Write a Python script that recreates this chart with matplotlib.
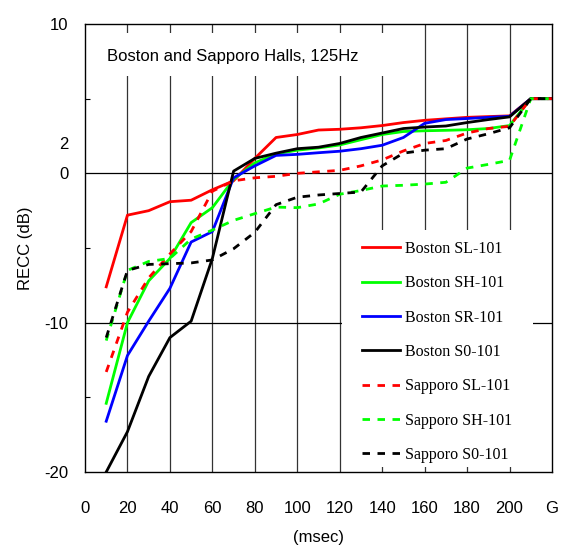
import matplotlib
matplotlib.use("Agg")
import matplotlib.pyplot as plt
from matplotlib.patches import Rectangle

x = [10, 20, 30, 40, 50, 60, 70, 80, 90, 100, 110, 120, 130, 140, 150, 160, 170, 180, 190, 200, 210, 220]

boston_sl = [-7.6, -2.8, -2.5, -1.9, -1.8, -1.1, -0.5, 1.0, 2.4, 2.6, 2.9, 2.95, 3.05, 3.2, 3.4, 3.55, 3.65, 3.75, 3.8, 3.85, 5.0, 5.0]
boston_sh = [-15.4, -10.0, -7.2, -5.7, -3.3, -2.3, -0.4, 0.7, 1.3, 1.55, 1.7, 1.9, 2.25, 2.6, 2.8, 2.85, 2.88, 2.92, 3.0, 3.2, 5.0, 5.0]
boston_sr = [-16.6, -12.2, -9.9, -7.7, -4.6, -3.9, -0.3, 0.5, 1.2, 1.27, 1.38, 1.48, 1.65, 1.88, 2.4, 3.35, 3.6, 3.67, 3.75, 3.82, 5.0, 5.0]
boston_s0 = [-20.0, -17.3, -13.6, -11.0, -9.9, -5.7, 0.15, 1.0, 1.35, 1.65, 1.75, 2.0, 2.4, 2.7, 3.0, 3.1, 3.17, 3.4, 3.6, 3.78, 5.0, 5.0]
sapporo_sl = [-13.3, -9.3, -7.0, -5.4, -3.9, -1.2, -0.5, -0.3, -0.2, 0.0, 0.1, 0.2, 0.5, 0.9, 1.5, 2.0, 2.2, 2.7, 3.0, 3.15, 5.0, 5.0]
sapporo_sh = [-11.2, -6.5, -5.9, -5.7, -4.4, -3.8, -3.15, -2.7, -2.26, -2.3, -2.05, -1.4, -1.15, -0.85, -0.8, -0.72, -0.6, 0.35, 0.6, 0.87, 5.0, 5.0]
sapporo_s0 = [-11.0, -6.5, -6.1, -6.05, -6.0, -5.8, -5.05, -3.95, -2.1, -1.6, -1.45, -1.35, -1.25, 0.5, 1.35, 1.55, 1.65, 2.3, 2.65, 3.05, 5.0, 5.0]

series = [
    ("Boston SL-101", boston_sl, "#ff0000", "-"),
    ("Boston SH-101", boston_sh, "#00ff00", "-"),
    ("Boston SR-101", boston_sr, "#0000ff", "-"),
    ("Boston S0-101", boston_s0, "#000000", "-"),
    ("Sapporo SL-101", sapporo_sl, "#ff0000", "--"),
    ("Sapporo SH-101", sapporo_sh, "#00ff00", "--"),
    ("Sapporo S0-101", sapporo_s0, "#000000", "--"),
]

x_ticks = [0, 20, 40, 60, 80, 100, 120, 140, 160, 180, 200, 220]
x_tick_labels = ["0", "20", "40", "60", "80", "100", "120", "140", "160", "180", "200", "G"]
y_ticks = [-20, -10, 0, 2, 10]
y_tick_labels = ["-20", "-10", "0", "2", "10"]
y_minor = [-15, -5, 5]
v_grid = [20, 40, 60, 80, 100, 120, 140, 160, 180, 200]
h_grid = [0, -10]

plt.rcParams['font.family'] = ['Liberation Sans', 'DejaVu Sans']

fig = plt.figure(figsize=(5.61, 5.45), dpi=100)
ax = fig.add_axes([85/561, 73/545, 467/561, 448/545])
ax.set_xlim(0, 220)
ax.set_ylim(-20, 10)

for gx in v_grid:
    ax.axvline(gx, color="#333333", lw=0.9, zorder=1)
for gy in h_grid:
    ax.axhline(gy, color="black", lw=0.9, zorder=1)

handles = []
for label, vals, col, ls in series:
    if ls == "--":
        ln, = ax.plot(x, vals, color=col, lw=2.0, linestyle=(0, (2.7, 2.7)), label=label, zorder=3)
    else:
        ln, = ax.plot(x, vals, color=col, lw=2.0, linestyle="-", label=label, zorder=3)
    handles.append(ln)

# title box
ax.add_patch(Rectangle((0.0, 0.884), 0.685, 0.096, transform=ax.transAxes,
                       facecolor="white", edgecolor="none", zorder=4))
ax.text(0.047, 0.928, "Boston and Sapporo Halls, 125Hz", transform=ax.transAxes,
        fontsize=12, va="center", ha="left", zorder=5)

# legend box
ax.add_patch(Rectangle((0.55, 0.011), 0.409, 0.529, transform=ax.transAxes,
                       facecolor="white", edgecolor="none", zorder=4))
leg = ax.legend(handles=handles, loc="upper left", bbox_to_anchor=(0.593, 0.516),
                frameon=False, prop={"family": "Liberation Serif", "size": 11.5},
                handlelength=2.4, handletextpad=0.3, labelspacing=1.15,
                borderpad=0, borderaxespad=0)
leg.set_zorder(6)

ax.set_xticks(x_ticks)
ax.set_xticklabels(x_tick_labels)
ax.set_yticks(y_ticks)
ax.set_yticklabels(y_tick_labels)
ax.set_yticks(y_minor, minor=True)
ax.tick_params(axis="x", which="major", length=0, pad=21, labelsize=12)
ax.tick_params(axis="y", which="major", length=0, pad=12, labelsize=12)
ax.tick_params(axis="y", which="minor", direction="in", length=3.6, width=0.8)

for sp in ax.spines.values():
    sp.set_linewidth(1.0)
    sp.set_zorder(7)

ax.set_xlabel("(msec)", fontsize=12, labelpad=10)
ax.set_ylabel("RECC (dB)", fontsize=12, labelpad=8)

fig.savefig("out.png", dpi=100)
